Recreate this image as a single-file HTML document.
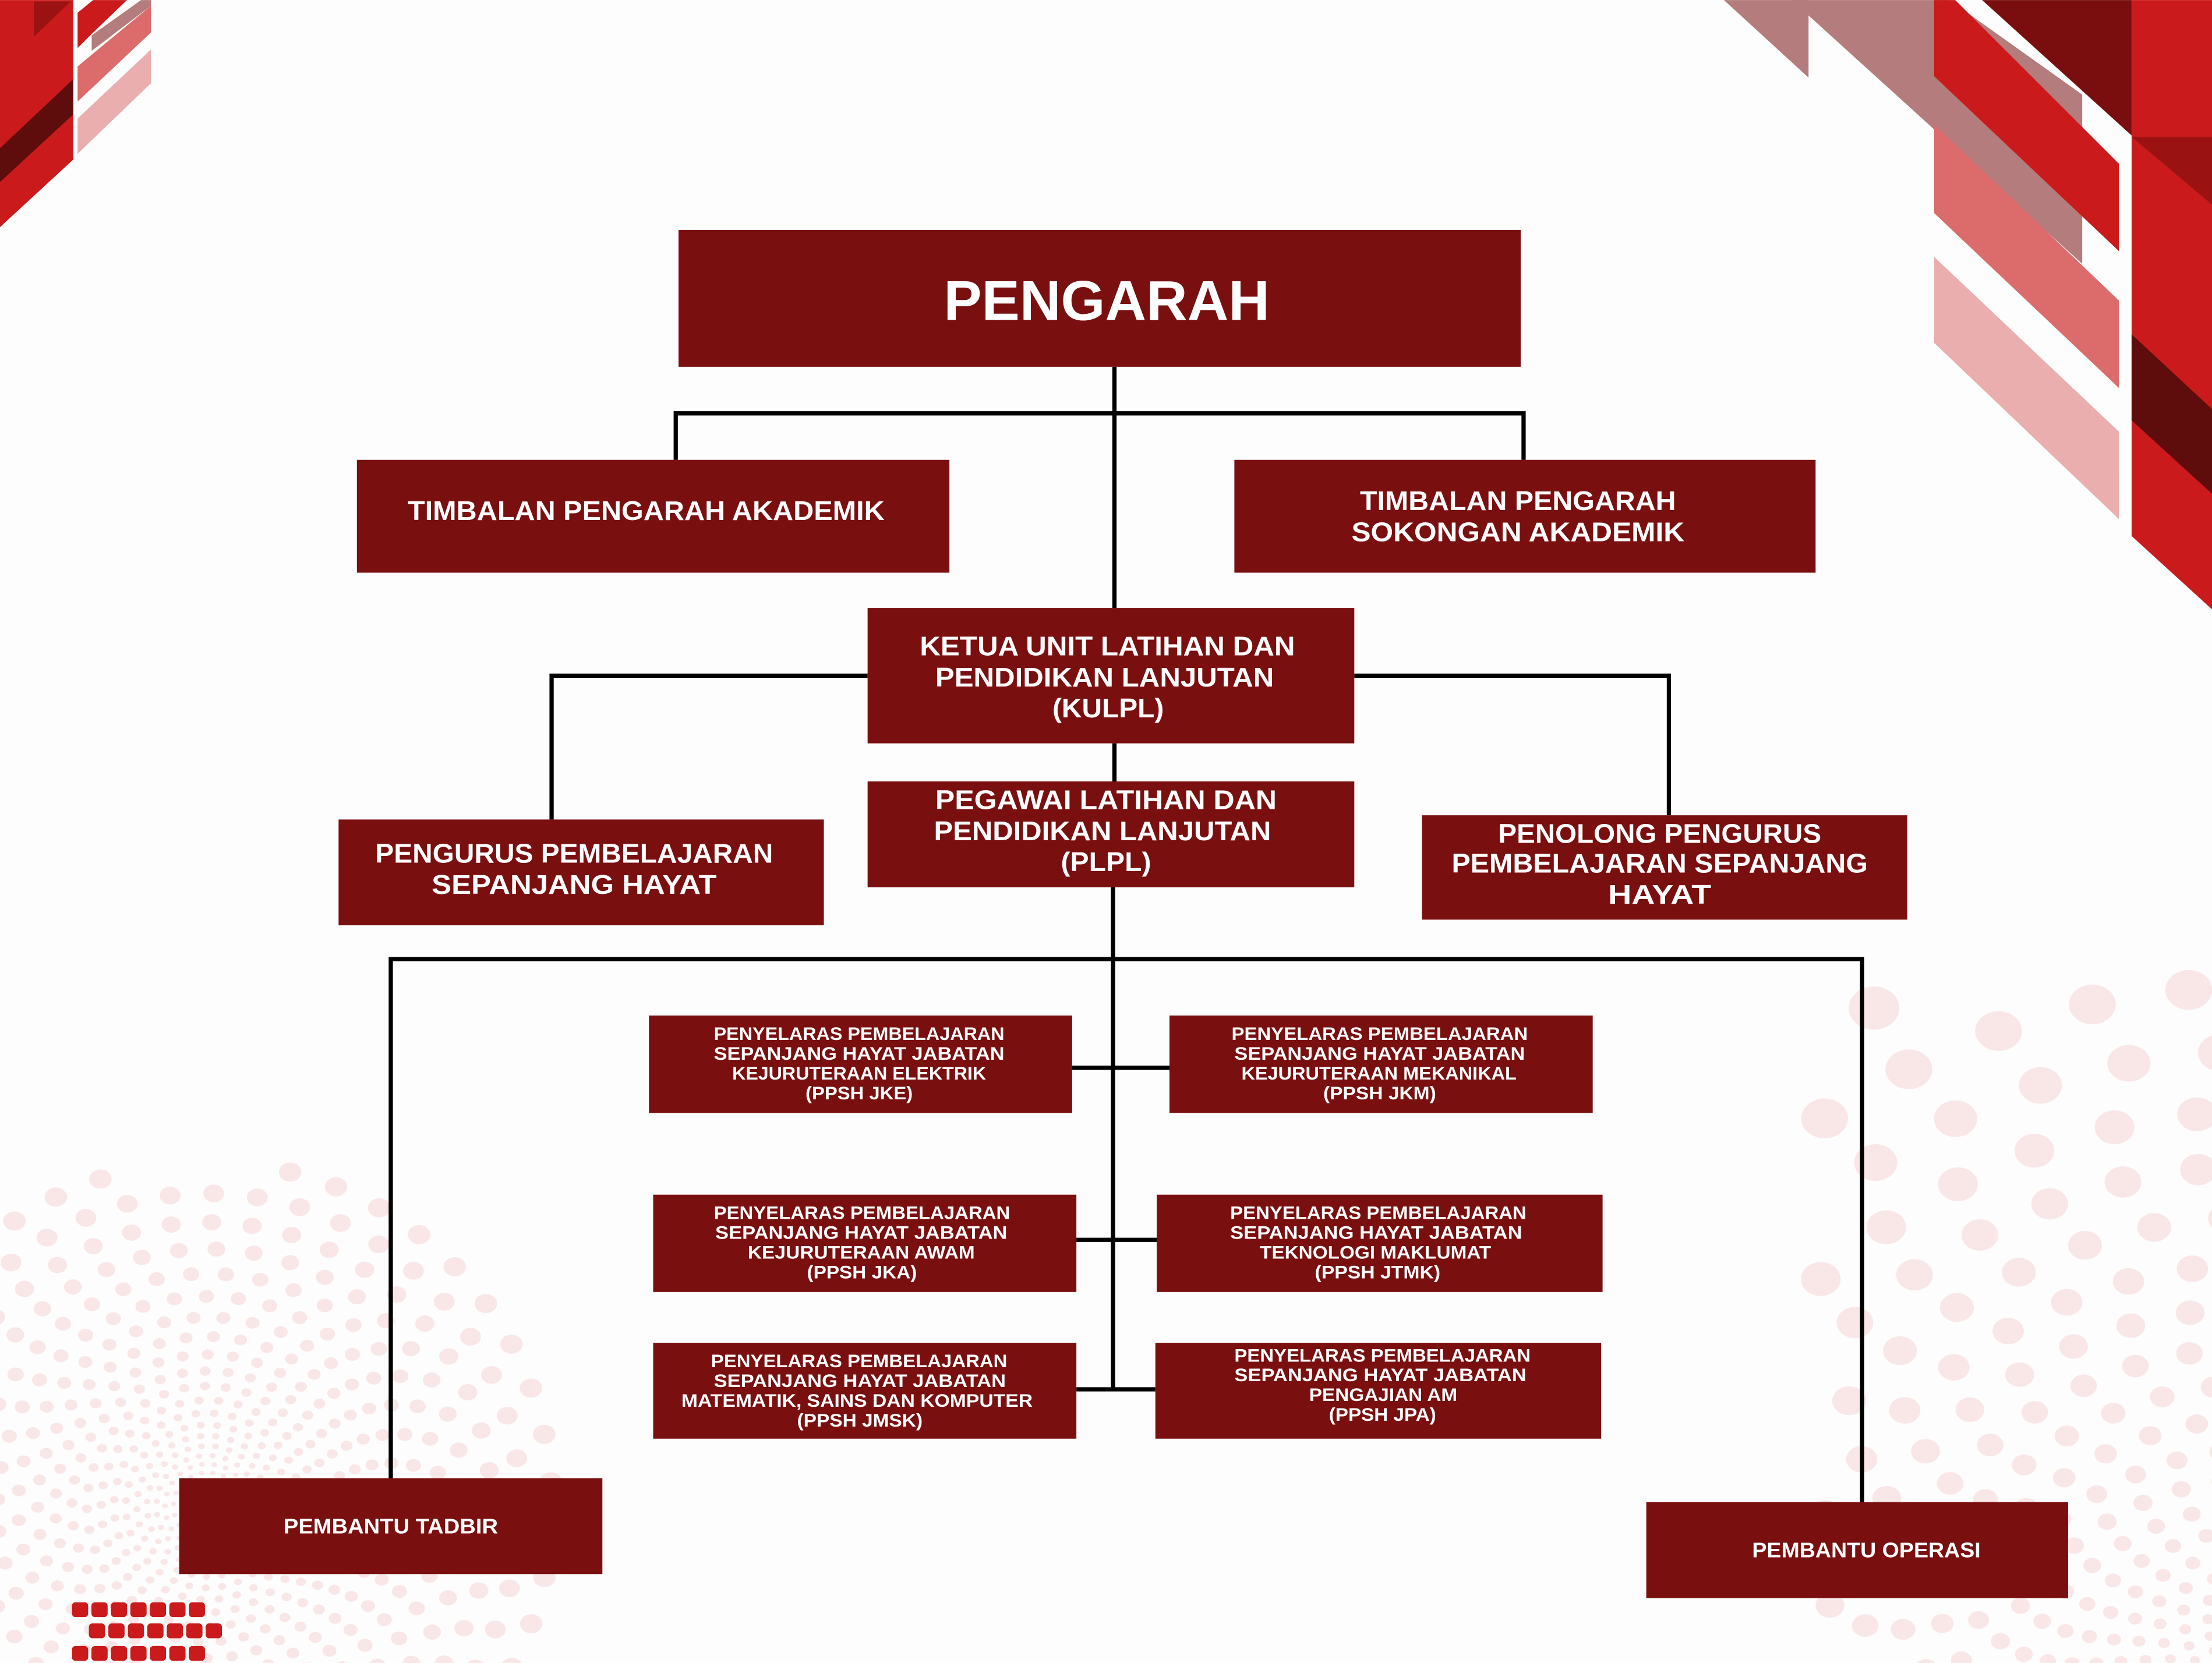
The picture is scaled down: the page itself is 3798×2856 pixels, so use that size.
<!DOCTYPE html>
<html><head><meta charset="utf-8"><style>
html,body{margin:0;padding:0;background:#fdfdfd;}
svg{display:block;}
text{font-family:"Liberation Sans",sans-serif;font-weight:bold;fill:#fff;}
</style></head><body>
<svg id="s" width="3798" height="2856" viewBox="0 0 1568 1179" xmlns="http://www.w3.org/2000/svg">
<rect width="1568" height="1179" fill="#fdfdfd"/>
<g id="dots" fill="#f9e7e7"></g>
<polygon points="1222,0 1282,0 1282,55" fill="#b47c7c"/>
<polygon points="1270,0 1382,0 1476,67 1476,187" fill="#b47c7c"/>
<polygon points="1371,0 1386,0 1502,116 1502,178 1371,54" fill="#cb1a1b"/>
<polygon points="1405,0 1511,0 1511,96" fill="#7a0e0e"/>
<polygon points="1371,88 1502,213 1502,275 1371,151" fill="#dc6b6b"/>
<polygon points="1371,182 1502,306 1502,368 1371,243" fill="#ebaeae"/>
<polygon points="1511,0 1568,0 1568,432 1511,380" fill="#cb1a1b"/>
<polygon points="1511,97 1568,97 1568,145" fill="#9a1212"/>
<polygon points="1511,237 1568,290 1568,350 1511,298" fill="#5e0c0c"/>
<polygon points="0,0 52,0 52,113 0,161" fill="#cb1a1b"/>
<polygon points="24,1 50,1 24,26" fill="#9a1212"/>
<polygon points="0,105 52,56 52,81 0,129" fill="#5e0c0c"/>
<polygon points="55,9 66,0 90,0 65,24 55,34" fill="#cb1a1b"/>
<polygon points="65,25 100,0 107,0 107,4 65,36" fill="#b47c7c"/>
<polygon points="55,47 107,4 107,23 55,72" fill="#dc6b6b"/>
<polygon points="55,84 107,35 107,59 55,109" fill="#ebaeae"/>
<g fill="#cb1a1b" id="sq"></g>
<g stroke="#000" stroke-width="3" fill="none">
<line x1="790" y1="260" x2="790" y2="431"/>
<polyline points="479,326 479,293 1080,293 1080,326"/>
<polyline points="615,479 391,479 391,581"/>
<polyline points="960,479 1183,479 1183,578"/>
<line x1="790" y1="527" x2="790" y2="554"/>
<line x1="789" y1="629" x2="789" y2="986"/>
<polyline points="277,1048 277,680 1320,680 1320,1065"/>
<line x1="760" y1="757" x2="829" y2="757"/>
<line x1="763" y1="879" x2="820" y2="879"/>
<line x1="763" y1="985" x2="819" y2="985"/>
</g>
<g fill="#7a0f10">
<rect x="481" y="163" width="597" height="97"/>
<rect x="253" y="326" width="420" height="80"/>
<rect x="875" y="326" width="412" height="80"/>
<rect x="615" y="431" width="345" height="96"/>
<rect x="240" y="581" width="344" height="75"/>
<rect x="615" y="554" width="345" height="75"/>
<rect x="1008" y="578" width="344" height="74"/>
<rect x="460" y="720" width="300" height="69"/>
<rect x="829" y="720" width="300" height="69"/>
<rect x="463" y="847" width="300" height="69"/>
<rect x="820" y="847" width="316" height="69"/>
<rect x="463" y="952" width="300" height="68"/>
<rect x="819" y="952" width="316" height="68"/>
<rect x="127" y="1048" width="300" height="68"/>
<rect x="1167" y="1065" width="299" height="68"/>
</g>
<g text-anchor="middle" dominant-baseline="central">
<text x="784.5" y="213" font-size="40" textLength="231" lengthAdjust="spacingAndGlyphs">PENGARAH</text>
<text x="458" y="362" font-size="19" textLength="338" lengthAdjust="spacingAndGlyphs">TIMBALAN PENGARAH AKADEMIK</text>
<text x="1076" y="355" font-size="19" textLength="224" lengthAdjust="spacingAndGlyphs">TIMBALAN PENGARAH</text>
<text x="1076" y="377" font-size="19" textLength="236" lengthAdjust="spacingAndGlyphs">SOKONGAN  AKADEMIK</text>
<text x="785" y="458" font-size="19" textLength="266" lengthAdjust="spacingAndGlyphs">KETUA UNIT LATIHAN DAN</text>
<text x="783" y="480" font-size="19" textLength="240" lengthAdjust="spacingAndGlyphs">PENDIDIKAN LANJUTAN</text>
<text x="785.5" y="502" font-size="19" textLength="79" lengthAdjust="spacingAndGlyphs">(KULPL)</text>
<text x="784" y="567" font-size="19" textLength="242" lengthAdjust="spacingAndGlyphs">PEGAWAI LATIHAN DAN</text>
<text x="781.5" y="589" font-size="19" textLength="239" lengthAdjust="spacingAndGlyphs">PENDIDIKAN LANJUTAN</text>
<text x="784" y="611" font-size="19" textLength="64" lengthAdjust="spacingAndGlyphs">(PLPL)</text>
<text x="407" y="605" font-size="19" textLength="282" lengthAdjust="spacingAndGlyphs">PENGURUS PEMBELAJARAN</text>
<text x="407" y="627" font-size="19" textLength="202" lengthAdjust="spacingAndGlyphs">SEPANJANG HAYAT</text>
<text x="1176.5" y="591" font-size="19" textLength="229" lengthAdjust="spacingAndGlyphs">PENOLONG PENGURUS</text>
<text x="1176.5" y="612" font-size="19" textLength="295" lengthAdjust="spacingAndGlyphs">PEMBELAJARAN SEPANJANG</text>
<text x="1176.5" y="634" font-size="19" textLength="73" lengthAdjust="spacingAndGlyphs">HAYAT</text>
<text x="609" y="733" font-size="13" textLength="206" lengthAdjust="spacingAndGlyphs">PENYELARAS PEMBELAJARAN</text>
<text x="609" y="747" font-size="13" textLength="206" lengthAdjust="spacingAndGlyphs">SEPANJANG HAYAT JABATAN</text>
<text x="609" y="761" font-size="13" textLength="180" lengthAdjust="spacingAndGlyphs">KEJURUTERAAN ELEKTRIK</text>
<text x="609" y="775" font-size="13" textLength="76" lengthAdjust="spacingAndGlyphs">(PPSH JKE)</text>
<text x="978" y="733" font-size="13" textLength="210" lengthAdjust="spacingAndGlyphs">PENYELARAS  PEMBELAJARAN</text>
<text x="978" y="747" font-size="13" textLength="206" lengthAdjust="spacingAndGlyphs">SEPANJANG HAYAT JABATAN</text>
<text x="977.5" y="761" font-size="13" textLength="195" lengthAdjust="spacingAndGlyphs">KEJURUTERAAN MEKANIKAL</text>
<text x="978" y="775" font-size="13" textLength="80" lengthAdjust="spacingAndGlyphs">(PPSH JKM)</text>
<text x="611" y="860" font-size="13" textLength="210" lengthAdjust="spacingAndGlyphs">PENYELARAS  PEMBELAJARAN</text>
<text x="610.5" y="874" font-size="13" textLength="207" lengthAdjust="spacingAndGlyphs">SEPANJANG HAYAT JABATAN</text>
<text x="610.5" y="888" font-size="13" textLength="161" lengthAdjust="spacingAndGlyphs">KEJURUTERAAN AWAM</text>
<text x="611" y="902" font-size="13" textLength="78" lengthAdjust="spacingAndGlyphs">(PPSH JKA)</text>
<text x="977" y="860" font-size="13" textLength="210" lengthAdjust="spacingAndGlyphs">PENYELARAS  PEMBELAJARAN</text>
<text x="975.5" y="874" font-size="13" textLength="207" lengthAdjust="spacingAndGlyphs">SEPANJANG HAYAT JABATAN</text>
<text x="975" y="888" font-size="13" textLength="164" lengthAdjust="spacingAndGlyphs">TEKNOLOGI MAKLUMAT</text>
<text x="976.5" y="902" font-size="13" textLength="89" lengthAdjust="spacingAndGlyphs">(PPSH JTMK)</text>
<text x="609" y="965" font-size="13" textLength="210" lengthAdjust="spacingAndGlyphs">PENYELARAS  PEMBELAJARAN</text>
<text x="609.5" y="979" font-size="13" textLength="207" lengthAdjust="spacingAndGlyphs">SEPANJANG HAYAT JABATAN</text>
<text x="607.5" y="993" font-size="13" textLength="249" lengthAdjust="spacingAndGlyphs">MATEMATIK, SAINS DAN KOMPUTER</text>
<text x="609.5" y="1007" font-size="13" textLength="89" lengthAdjust="spacingAndGlyphs">(PPSH JMSK)</text>
<text x="980" y="961" font-size="13" textLength="210" lengthAdjust="spacingAndGlyphs">PENYELARAS  PEMBELAJARAN</text>
<text x="978.5" y="975" font-size="13" textLength="207" lengthAdjust="spacingAndGlyphs">SEPANJANG HAYAT JABATAN</text>
<text x="980.5" y="989" font-size="13" textLength="105" lengthAdjust="spacingAndGlyphs">PENGAJIAN AM</text>
<text x="980" y="1003" font-size="13" textLength="76" lengthAdjust="spacingAndGlyphs">(PPSH JPA)</text>
<text x="277" y="1082" font-size="15" textLength="152" lengthAdjust="spacingAndGlyphs">PEMBANTU TADBIR</text>
<text x="1323" y="1099" font-size="15" textLength="162" lengthAdjust="spacingAndGlyphs">PEMBANTU OPERASI</text>
</g>
</svg>
<script>
(function(){
var NS="http://www.w3.org/2000/svg";
var g=document.getElementById("dots");
function spiral(cx,cy,r0,r1,clip){
  var r=r0;
  while(r<=r1){
    var size=1.2+r*0.028;
    var cnt=Math.max(8,Math.round(2*Math.PI*r/(size*4.2)));
    for(var i=0;i<cnt;i++){
      var a=i/cnt*2*Math.PI+r*0.01;
      var x=cx+r*Math.cos(a),y=cy+r*Math.sin(a);
      if(!clip(x,y))continue;
      var c=document.createElementNS(NS,"ellipse");
      c.setAttribute("cx",x.toFixed(1));c.setAttribute("cy",y.toFixed(1));
      c.setAttribute("rx",size.toFixed(1));c.setAttribute("ry",(size*0.85).toFixed(1));
      g.appendChild(c);
    }
    r+=Math.max(6,size*3);
  }
}
spiral(147,1068,12,260,function(x,y){return x>=-5&&x<430&&y>830&&y<1185;});
spiral(1600,1250,30,620,function(x,y){return x>1290&&y>690&&y<1185;});
var sq=document.getElementById("sq");
[[51,1136],[63,1151],[51,1167]].forEach(function(r){
  for(var i=0;i<7;i++){
    var e=document.createElementNS(NS,"rect");
    e.setAttribute("x",r[0]+i*13.8);e.setAttribute("y",r[1]);
    e.setAttribute("width",11.5);e.setAttribute("height",10.5);
    e.setAttribute("rx",2.5);sq.appendChild(e);
  }
});
})();
</script>
</body></html>
